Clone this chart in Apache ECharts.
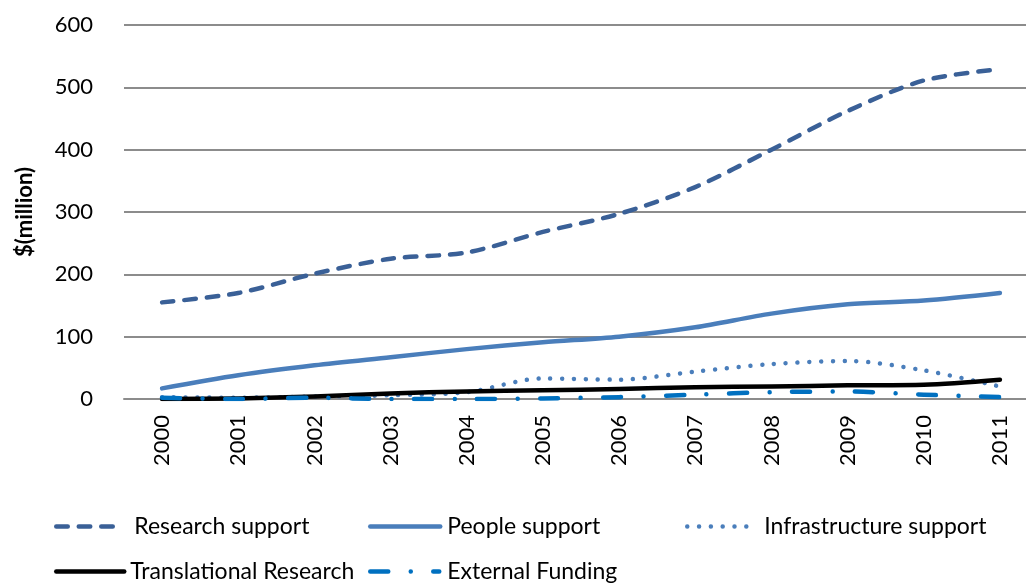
<!DOCTYPE html>
<html>
<head>
<meta charset="utf-8">
<script src="https://cdn.jsdelivr.net/npm/echarts@6/dist/echarts.min.js"></script>
<style>
  html, body { margin: 0; padding: 0; background: #ffffff; }
  #chart { width: 1026px; height: 584px; }
</style>
</head>
<body>
<div id="chart"></div>
<script>
// Funding by program area, $ million
const years = ['2000', '2001', '2002', '2003', '2004', '2005', '2006', '2007', '2008', '2009', '2010', '2011'];
const researchSupport = [155, 170, 201, 225, 235, 268, 297, 340, 400, 462, 511, 529];
const peopleSupport = [17, 38, 54, 67, 80, 91, 100, 115, 137, 152, 158, 170];
const infrastructureSupport = [3, 2, 4, 6, 11, 33, 31, 44, 56, 61, 46, 20];
const translationalResearch = [0, 1, 4, 9, 12, 14, 16, 19, 20, 22, 23, 31];
const externalFunding = [2, 0, 2, 0, 0, 1, 3, 7, 11, 12, 7, 3];
const yTicks = { min: 0, max: 600, interval: 100 };

const FONT = 'Lato';
const LW = 4.5;

const styles = {
  'Research support':       { color: '#3a6097', type: [11.5, 11] },
  'People support':         { color: '#4a7ebb', type: 'solid' },
  'Infrastructure support': { color: '#4a7ebb', type: [0.01, 11.8] },
  'Translational Research': { color: '#000000', type: 'solid' },
  'External Funding':       { color: '#0070c0', type: [18, 22.5, 0.01, 22.5] }
};

function lineSeries(name, data) {
  const s = styles[name];
  return {
    name: name,
    type: 'line',
    data: data,
    smooth: 0.3,
    symbol: 'none',
    color: s.color,
    lineStyle: { color: s.color, width: LW, type: s.type, cap: 'round', join: 'round' },
    emphasis: { disabled: true }
  };
}

// one legend box per entry so each sits where its column is
function legendItem(name, left, top, iconWidth, textGap) {
  const s = styles[name];
  return {
    show: true,
    data: [name],
    left: left,
    top: top,
    orient: 'horizontal',
    padding: 0,
    itemWidth: iconWidth,
    itemHeight: 12,
    selectedMode: false,
    itemStyle: { opacity: 0 },
    lineStyle: { color: s.color, width: 4.5, type: s.type, cap: 'round' },
    textStyle: { fontFamily: FONT, fontSize: 23, color: '#000', padding: [0, 0, 0, textGap] }
  };
}

const chart = echarts.init(document.getElementById('chart'), null, { renderer: 'canvas' });
chart.setOption({
  animation: false,
  backgroundColor: '#ffffff',
  grid: { left: 124, top: 25, width: 914, height: 374, containLabel: false, outerBoundsMode: 'none' },
  xAxis: {
    type: 'category',
    data: years,
    boundaryGap: true,
    axisLine: { show: true, lineStyle: { color: '#8c8c8c', width: 2 } },
    axisTick: { show: false },
    axisLabel: { rotate: 90, margin: 16, fontFamily: FONT, fontSize: 22, color: '#000' }
  },
  yAxis: {
    type: 'value',
    min: yTicks.min,
    max: yTicks.max,
    interval: yTicks.interval,
    name: '$(million)',
    nameLocation: 'middle',
    nameGap: 88,
    nameRotate: 90,
    nameTextStyle: { fontFamily: FONT, fontSize: 22, fontWeight: 'bold', color: '#000' },
    axisLine: { show: false },
    axisTick: { show: false },
    axisLabel: { margin: 31, fontFamily: FONT, fontSize: 22, color: '#000' },
    splitLine: { show: true, lineStyle: { color: '#8c8c8c', width: 2 } }
  },
  legend: [
    legendItem('Research support', 54, 515, 63, 10),
    legendItem('People support', 368, 515, 70, 2),
    legendItem('Infrastructure support', 685, 515, 63, 9),
    legendItem('Translational Research', 54, 560, 68, 1),
    legendItem('External Funding', 368, 560, 69, 3)
  ],
  series: [
    lineSeries('Research support', researchSupport),
    lineSeries('People support', peopleSupport),
    lineSeries('Infrastructure support', infrastructureSupport),
    lineSeries('Translational Research', translationalResearch),
    lineSeries('External Funding', externalFunding)
  ]
});
</script>
</body>
</html>
